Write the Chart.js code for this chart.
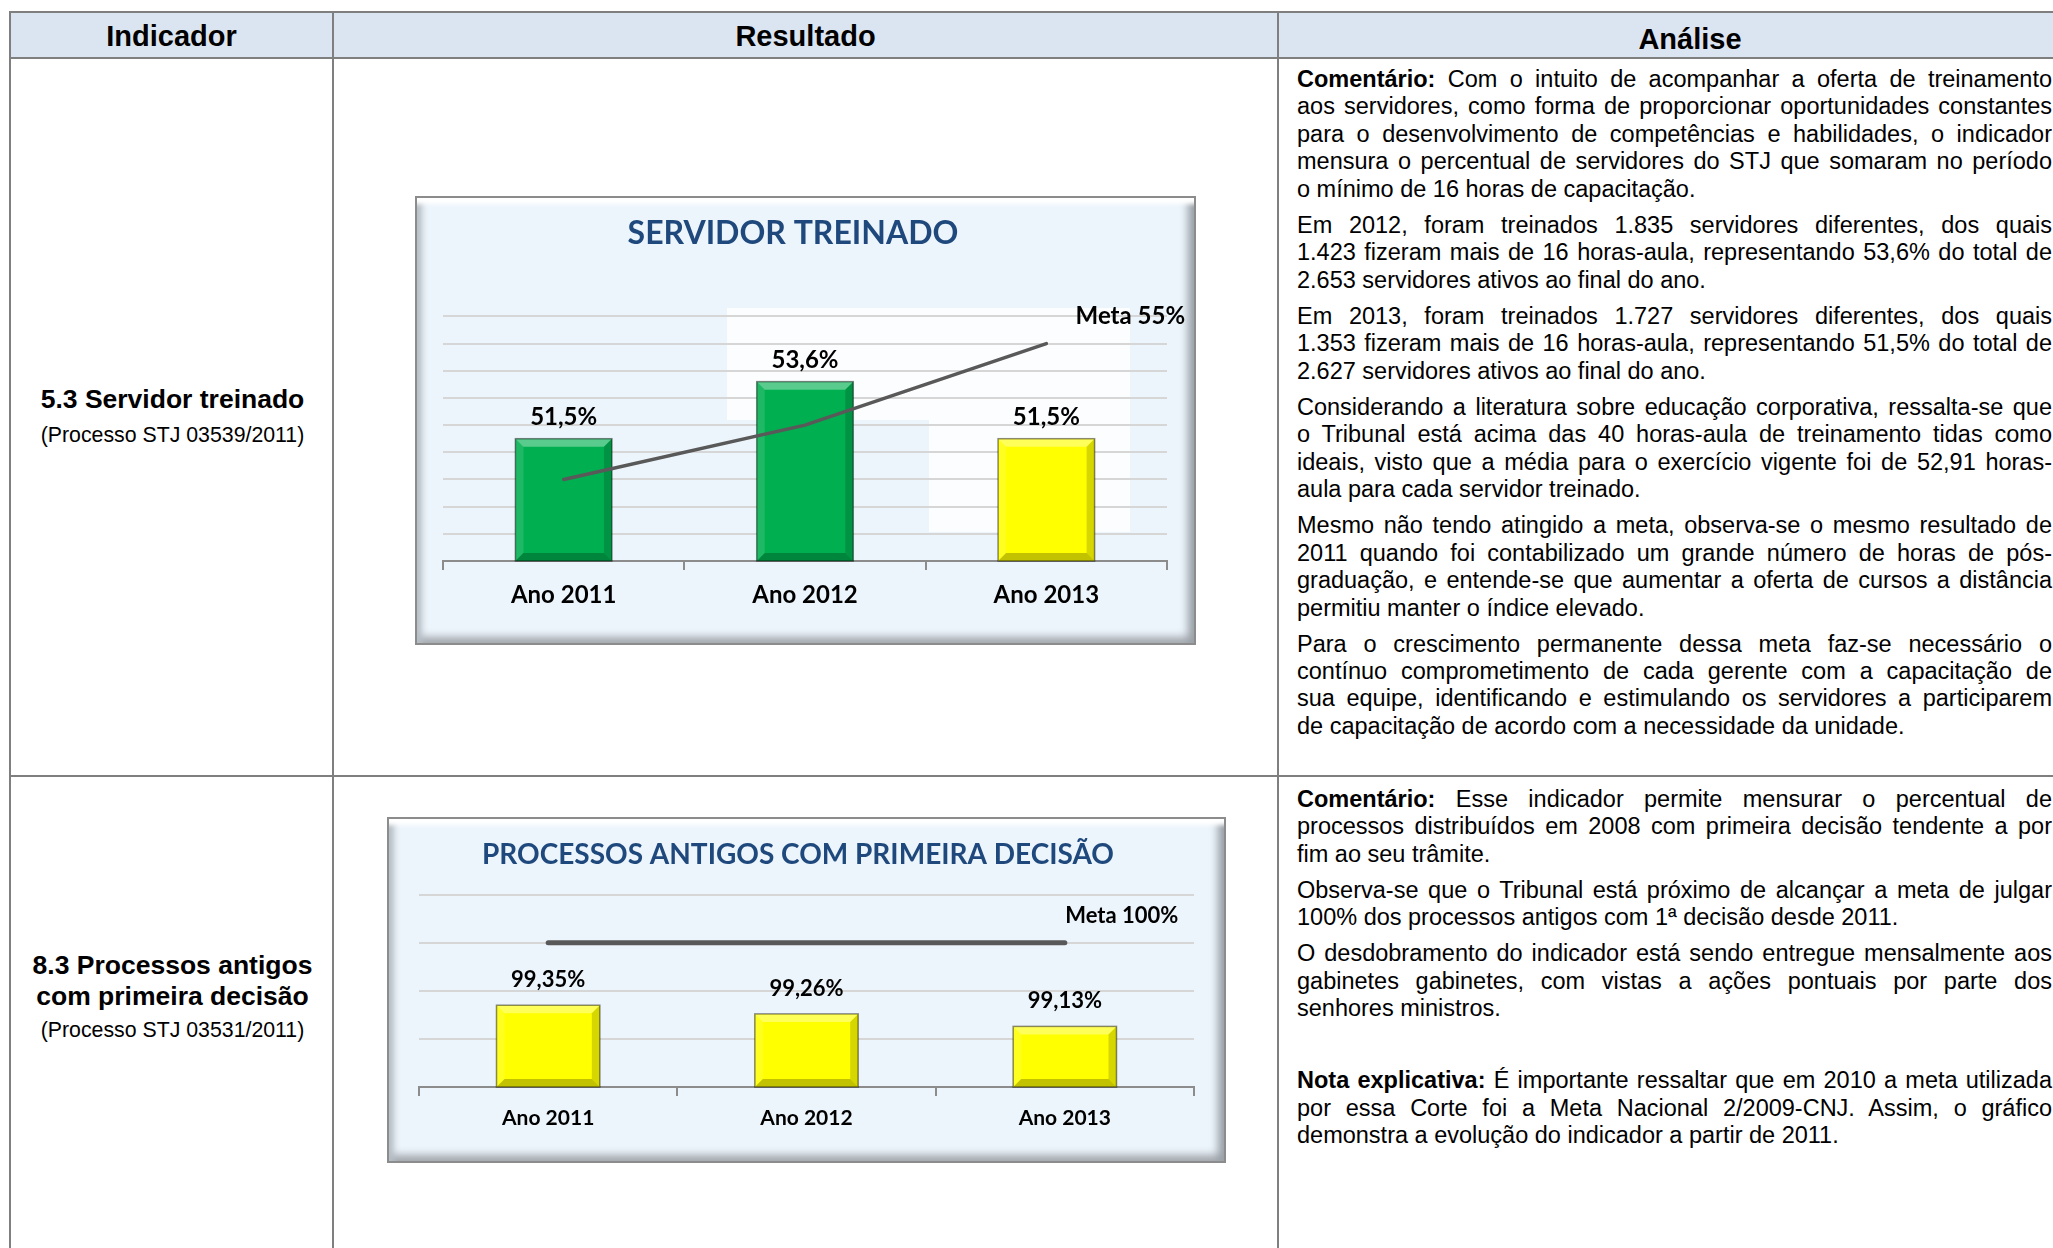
<!DOCTYPE html>
<html lang="pt-BR">
<head>
<meta charset="utf-8">
<title>Indicadores</title>
<script src="https://cdn.jsdelivr.net/npm/chart.js@4.4.1/dist/chart.umd.min.js"></script>
<style>
html, body { margin: 0; padding: 0; }
body { width: 2053px; height: 1248px; overflow: hidden; background: #fff; position: relative;
       font-family: "Liberation Sans", Arial, sans-serif; color: #000; }
.hd { position: absolute; top: 12px; height: 46px; background: #dbe5f1; }
.hline { position: absolute; height: 2px; background: #7f7f7f; }
.vline { position: absolute; width: 2px; background: #7f7f7f; }
.htext { position: absolute; top: 13px; height: 46px; line-height: 46px; font-weight: bold; font-size: 29px; text-align: center; }
.ind { position: absolute; left: 12px; width: 321px; text-align: center; white-space: nowrap; }
.ind.b { font-weight: bold; font-size: 26.5px; line-height: 30px; }
.ind.r { font-size: 21.3px; line-height: 26px; }
.txt { position: absolute; left: 1297px; width: 755px; font-size: 23.5px; line-height: 27.45px; }
.txt .par { margin: 0 0 8.6px 0; }
.txt .ln { text-align: justify; text-align-last: justify; }
.txt .ln.fim { text-align-last: left; }
.box { position: absolute; box-sizing: border-box; border: 2px solid #8c8c8c; background: #edf5fc;
       box-shadow: inset 0 13px 4px -7px #ffffff, inset 9px 0 6px -4px #b7bec6,
                   inset -10px 0 8px -4px #99a0a6, inset 0 -10px 8px -4px #a3a8ad; }
.patch { position: absolute; background: #fcfdff; }
canvas { position: absolute; }
</style>
</head>
<body>

<!-- cabecalho da tabela -->
<div class="hd" style="left:10px; width:2100px;"></div>
<div class="hline" style="left:10px; top:11px; width:2100px;"></div>
<div class="hline" style="left:10px; top:57px; width:2100px;"></div>
<div class="hline" style="left:10px; top:775px; width:2100px;"></div>
<div class="vline" style="left:9px; top:11px; height:1300px;"></div>
<div class="vline" style="left:332px; top:11px; height:1300px;"></div>
<div class="vline" style="left:1277px; top:11px; height:1300px;"></div>

<div class="htext" style="left:11px; width:321px;">Indicador</div>
<div class="htext" style="left:334px; width:943px;">Resultado</div>
<div class="htext" style="left:1279px; width:822px; top:16px;">Análise</div>

<!-- coluna indicador -->
<div class="ind b" style="top:384px;">5.3 Servidor treinado</div>
<div class="ind r" style="top:422px;">(Processo STJ 03539/2011)</div>
<div class="ind b" style="top:950px;">8.3 Processos antigos</div>
<div class="ind b" style="top:981px;">com primeira decisão</div>
<div class="ind r" style="top:1017px;">(Processo STJ 03531/2011)</div>

<!-- graficos -->
<div class="box" style="left:415px; top:196px; width:781px; height:449px;"></div>
<div class="patch" style="left:727px; top:308px; width:403px; height:112px;"></div>
<div class="patch" style="left:929px; top:420px; width:201px; height:112px;"></div>
<canvas id="graficoTreinado" width="781" height="449" style="left:415px; top:196px;"></canvas>

<div class="box" style="left:387px; top:817px; width:839px; height:346px;"></div>
<canvas id="graficoProcessos" width="839" height="346" style="left:387px; top:817px;"></canvas>

<!-- analise -->
<div class="txt" style="top:66px;">
  <div class="par">
    <div class="ln"><b>Comentário:</b> Com o intuito de acompanhar a oferta de treinamento</div>
    <div class="ln">aos servidores, como forma de proporcionar oportunidades constantes</div>
    <div class="ln">para o desenvolvimento de competências e habilidades, o indicador</div>
    <div class="ln">mensura o percentual de servidores do STJ que somaram no período</div>
    <div class="ln fim">o mínimo de 16 horas de capacitação.</div>
  </div>
  <div class="par">
    <div class="ln">Em 2012, foram treinados 1.835 servidores diferentes, dos quais</div>
    <div class="ln">1.423 fizeram mais de 16 horas-aula, representando 53,6% do total de</div>
    <div class="ln fim">2.653 servidores ativos ao final do ano.</div>
  </div>
  <div class="par">
    <div class="ln">Em 2013, foram treinados 1.727 servidores diferentes, dos quais</div>
    <div class="ln">1.353 fizeram mais de 16 horas-aula, representando 51,5% do total de</div>
    <div class="ln fim">2.627 servidores ativos ao final do ano.</div>
  </div>
  <div class="par">
    <div class="ln">Considerando a literatura sobre educação corporativa, ressalta-se que</div>
    <div class="ln">o Tribunal está acima das 40 horas-aula de treinamento tidas como</div>
    <div class="ln">ideais, visto que a média para o exercício vigente foi de 52,91 horas-</div>
    <div class="ln fim">aula para cada servidor treinado.</div>
  </div>
  <div class="par">
    <div class="ln">Mesmo não tendo atingido a meta, observa-se o mesmo resultado de</div>
    <div class="ln">2011 quando foi contabilizado um grande número de horas de pós-</div>
    <div class="ln">graduação, e entende-se que aumentar a oferta de cursos a distância</div>
    <div class="ln fim">permitiu manter o índice elevado.</div>
  </div>
  <div class="par">
    <div class="ln">Para o crescimento permanente dessa meta faz-se necessário o</div>
    <div class="ln">contínuo comprometimento de cada gerente com a capacitação de</div>
    <div class="ln">sua equipe, identificando e estimulando os servidores a participarem</div>
    <div class="ln fim">de capacitação de acordo com a necessidade da unidade.</div>
  </div>
</div>

<div class="txt" style="top:786px;">
  <div class="par">
    <div class="ln"><b>Comentário:</b> Esse indicador permite mensurar o percentual de</div>
    <div class="ln">processos distribuídos em 2008 com primeira decisão tendente a por</div>
    <div class="ln fim">fim ao seu trâmite.</div>
  </div>
  <div class="par">
    <div class="ln">Observa-se que o Tribunal está próximo de alcançar a meta de julgar</div>
    <div class="ln fim">100% dos processos antigos com 1ª decisão desde 2011.</div>
  </div>
  <div class="par">
    <div class="ln">O desdobramento do indicador está sendo entregue mensalmente aos</div>
    <div class="ln">gabinetes gabinetes, com vistas a ações pontuais por parte dos</div>
    <div class="ln fim">senhores ministros.</div>
  </div>
  <div class="par" style="height:27.45px"></div>
  <div class="par">
    <div class="ln"><b>Nota explicativa:</b> É importante ressaltar que em 2010 a meta utilizada</div>
    <div class="ln">por essa Corte foi a Meta Nacional 2/2009-CNJ. Assim, o gráfico</div>
    <div class="ln fim">demonstra a evolução do indicador a partir de 2011.</div>
  </div>
</div>

<script>
"use strict";

// dados
var anos = ['Ano 2011', 'Ano 2012', 'Ano 2013'];

var treinadoValores = [51.5, 53.6, 51.5];
var treinadoMeta = [50, 52, 55];
var treinadoCores = ['#00b050', '#00b050', '#ffff00'];
var treinadoEixo = [47, 56, 1];   // min, max, passo

var processosValores = [99.35, 99.26, 99.13];
var processosMeta = [100, 100, 100];
var processosCores = ['#ffff00', '#ffff00', '#ffff00'];
var processosEixo = [98.5, 100.5, 0.5];

function formata(v, casas) {
    return v.toFixed(casas).replace('.', ',') + '%';
}

// barras em relevo + rotulos de valor + rotulo da meta
var rotulos = {
    id: 'rotulos',
    afterDatasetDraw: function (chart, args) {
        if (args.meta.type !== 'bar') return;
        var ctx = chart.ctx;
        var b = 8;
        args.meta.data.forEach(function (bar) {
            var p = bar.getProps(['x', 'y', 'base', 'width'], true);
            var l = p.x - p.width / 2, r = p.x + p.width / 2, t = p.y;
            var bt = Math.min(p.base, chart.chartArea.bottom);
            ctx.save();
            function quad(pts, cor) {
                ctx.beginPath();
                ctx.moveTo(pts[0], pts[1]);
                for (var k = 2; k < pts.length; k += 2) ctx.lineTo(pts[k], pts[k + 1]);
                ctx.closePath();
                ctx.fillStyle = cor;
                ctx.fill();
            }
            quad([l, t, r, t, r - b, t + b, l + b, t + b], 'rgba(255,255,255,0.35)');
            quad([l, t, l + b, t + b, l + b, bt - b, l, bt], 'rgba(255,255,255,0.12)');
            quad([r, t, r, bt, r - b, bt - b, r - b, t + b], 'rgba(0,0,0,0.16)');
            quad([l, bt, r, bt, r - b, bt - b, l + b, bt - b], 'rgba(0,0,0,0.24)');
            ctx.strokeStyle = 'rgba(0,0,0,0.45)';
            ctx.lineWidth = 1.5;
            ctx.strokeRect(l, t, r - l, bt - t);
            ctx.restore();
        });
    },
    afterDatasetsDraw: function (chart, args, opts) {
        var ctx = chart.ctx;
        ctx.save();
        ctx.fillStyle = '#000';
        ctx.textAlign = 'center';
        ctx.textBaseline = 'middle';
        chart.data.datasets.forEach(function (ds, i) {
            var meta = chart.getDatasetMeta(i);
            if (meta.type === 'bar') {
                ctx.font = 'bold ' + opts.tamanho + 'px Lato';
                meta.data.forEach(function (bar, j) {
                    ctx.fillText(formata(ds.data[j], opts.casas), bar.x, bar.y - opts.acima);
                });
            } else {
                var n = meta.data.length - 1;
                var pt = meta.data[n];
                ctx.font = 'bold ' + opts.tamanhoMeta + 'px Lato';
                ctx.fillText('Meta ' + formata(ds.data[n], 0), pt.x + opts.metaDx, pt.y + opts.metaDy);
            }
        });
        ctx.restore();
    }
};

function montaGrafico(id, titulo, valores, meta, cores, eixo, estilo) {
    return new Chart(document.getElementById(id), {
        type: 'bar',
        data: {
            labels: anos,
            datasets: [{
                type: 'bar',
                data: valores,
                backgroundColor: cores,
                borderWidth: 0,
                barPercentage: 0.4,
                categoryPercentage: 1,
                order: 1
            }, {
                type: 'line',
                data: meta,
                borderColor: '#595959',
                borderWidth: estilo.linha,
                borderCapStyle: 'round',
                pointRadius: 0,
                tension: 0,
                order: 0
            }]
        },
        options: {
            responsive: false,
            animation: false,
            layout: { padding: estilo.padding },
            plugins: {
                legend: { display: false },
                tooltip: { enabled: false },
                title: {
                    display: true,
                    text: titulo,
                    color: '#1f497d',
                    font: { family: 'Lato', weight: 'bold', size: estilo.titulo },
                    padding: estilo.tituloPad
                },
                rotulos: estilo.rotulos
            },
            scales: {
                x: {
                    offset: true,
                    grid: { offset: true, drawOnChartArea: false, tickLength: 9, color: '#8c8c8c', lineWidth: 2 },
                    border: { color: '#8c8c8c', width: 2 },
                    ticks: { color: '#000', padding: estilo.tickPad,
                             font: { family: 'Lato', weight: 'bold', size: estilo.categoria } }
                },
                y: {
                    min: eixo[0],
                    max: eixo[1],
                    ticks: { display: false, stepSize: eixo[2] },
                    grid: { drawTicks: true, tickLength: estilo.recuo, tickColor: 'rgba(0,0,0,0)',
                            color: '#d6d6d6', lineWidth: 2 },
                    border: { display: false }
                }
            }
        },
        plugins: [rotulos]
    });
}

montaGrafico('graficoTreinado', 'SERVIDOR TREINADO', treinadoValores, treinadoMeta, treinadoCores, treinadoEixo, {
    linha: 3.5,
    padding: { left: 4, right: 29, top: 0, bottom: 25 },
    recuo: 24,
    titulo: 32,
    tituloPad: { top: 18, bottom: 64 },
    tickPad: 10.6,
    categoria: 24,
    rotulos: { casas: 1, tamanho: 24, acima: 21, tamanhoMeta: 24, metaDx: 84, metaDy: -27 }
});

montaGrafico('graficoProcessos', 'PROCESSOS ANTIGOS COM PRIMEIRA DECISÃO', processosValores, processosMeta, processosCores, processosEixo, {
    linha: 5,
    padding: { left: 15, right: 32, top: 0, bottom: 23 },
    recuo: 17,
    titulo: 28,
    tituloPad: { top: 21, bottom: 23 },
    tickPad: 9.4,
    categoria: 21,
    rotulos: { casas: 2, tamanho: 22, acima: 25, tamanhoMeta: 22, metaDx: 57, metaDy: -27 }
});
</script>
</body>
</html>
